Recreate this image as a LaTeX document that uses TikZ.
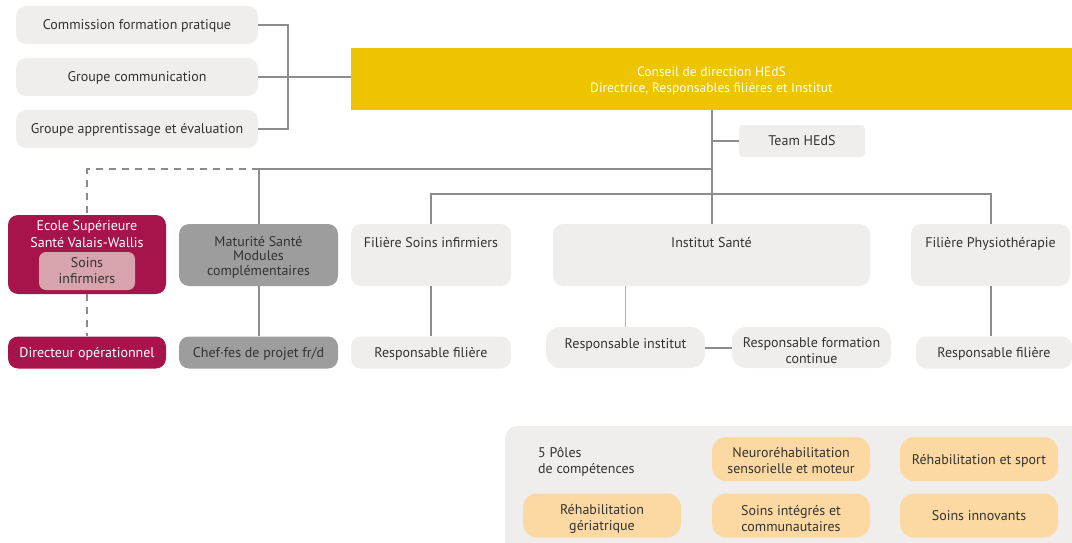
\documentclass[tikz,border=0pt]{standalone}
\usepackage{fontspec}
\setmainfont{PT Sans}
\begin{document}
\definecolor{boxgray}{HTML}{EFEEED}
\definecolor{crimson}{HTML}{A6144B}
\definecolor{pinkbox}{HTML}{D7A3AD}
\definecolor{midgray}{HTML}{9D9D9D}
\definecolor{gold}{HTML}{EEC300}
\definecolor{peach}{HTML}{FCD9A2}
\definecolor{linegray}{HTML}{8C8C8C}
\definecolor{txt}{HTML}{333333}
\begin{tikzpicture}[x=1pt,y=-1pt,
  every node/.style={font=\fontsize{14}{16}\selectfont, text=txt, inner sep=0pt, align=center},
  rbox/.style={rounded corners=10pt, fill=boxgray},
  crbox/.style={rounded corners=10pt, fill=crimson, text=white},
  gbox/.style={rounded corners=10pt, fill=midgray},
  pill/.style={rounded corners=14pt, fill=peach, minimum width=158pt, minimum height=44pt},
  conn/.style={draw=linegray, line width=2pt},
  thinconn/.style={draw=linegray!70, line width=1pt},
  dconn/.style={draw=linegray, line width=1.5pt, dash pattern=on 7pt off 6pt},
  sz/.style 2 args={minimum width=#1, minimum height=#2},
  sl/.style={text height=10pt, text depth=0.5pt},
  lbl/.style 2 args={label={[yshift=#1]center:{#2}}},
  wlbl/.style 2 args={label={[yshift=#1, text=white]center:{#2}}}
]
\useasboundingbox (0,0) rectangle (1072,543);

% left committees
\node[rbox, sz={242pt}{38pt}, sl] (cfp) at (137,25) {Commission formation pratique};
\node[rbox, sz={242pt}{38pt}, sl] (gc) at (137,77) {Groupe communication};
\node[rbox, sz={242pt}{38pt}, sl] (gae) at (137,129) {Groupe apprentissage et évaluation};

% direction
\node[fill=gold, sz={721pt}{62pt}, label={[yshift=-2.5pt, text=white, font=\fontsize{13.5}{16}\selectfont]center:{Conseil de direction HEdS\\Directrice, Responsables filières et Institut}}] (cd) at (711.5,79) {};
\node[rbox, rounded corners=4pt, sz={126pt}{32pt}, sl] (team) at (802,141) {Team HEdS};

% second row
\node[crbox, sz={158pt}{79pt}, label={[anchor=north, yshift=-5pt, text=white, font=\fontsize{14}{17}\selectfont]north:{Ecole Supérieure\\Santé Valais-Wallis}}] (ecole) at (87,254.5) {};
\node[rounded corners=7pt, fill=pinkbox, sz={96pt}{38pt}] (soins) at (87,271) {Soins\\infirmiers};
\node[gbox, sz={159pt}{62pt}, label={[yshift=-2pt, font=\fontsize{14}{14.5}\selectfont]center:{Maturité Santé\\Modules\\complémentaires}}] (mat) at (258.5,255) {};
\node[rbox, sz={160pt}{62pt}, label={[anchor=north, yshift=-13pt]north:Filière Soins infirmiers}] (fsi) at (431,255) {};
\node[rbox, sz={317pt}{62pt}, label={[anchor=north, yshift=-13pt]north:Institut Santé}] (inst) at (711.5,255) {};
\node[rbox, sz={159pt}{62pt}, label={[anchor=north, yshift=-13pt]north:Filière Physiothérapie}] (physio) at (990.5,255) {};

% third row
\node[crbox, sz={158pt}{32pt}, sl] (dir) at (87,352.5) {Directeur opérationnel};
\node[gbox, sz={159pt}{32pt}, sl] (chef) at (258.5,352.5) {Chef·fes de projet fr/d};
\node[rbox, sz={160pt}{32pt}, sl] (rf1) at (431,352.5) {Responsable filière};
\node[rbox, rounded corners=14pt, sz={159pt}{41pt}, lbl={2.5pt}{Responsable institut}] (ri) at (625.5,347.5) {};
\node[rbox, rounded corners=14pt, sz={159pt}{41pt}, lbl={-3.5pt}{Responsable formation\\continue}] (rfc) at (811.5,347.5) {};
\node[rbox, sz={156pt}{32pt}, sl] (rf2) at (994,352.5) {Responsable filière};

% poles panel
\fill[boxgray, rounded corners=12pt] (505,426) rectangle (1085,560);
\node[anchor=west, align=left] (poles) at (538,462) {5 Pôles\\de compétences};
\node[pill, lbl={-2pt}{Neuroréhabilitation\\sensorielle et moteur}] (p1) at (791,459) {};
\node[pill, sl, lbl={-1.5pt}{Réhabilitation et sport}] (p2) at (979,459) {};
\node[pill, lbl={-3pt}{Réhabilitation\\gériatrique}] (p3) at (602,515.5) {};
\node[pill, lbl={-3pt}{Soins intégrés et\\communautaires}] (p4) at (791,515.5) {};
\node[pill, sl] (p5) at (979,515.5) {Soins innovants};

% connectors
\coordinate (busL) at (288,77);
\draw[conn] (cfp.east) -| (busL) |- (gae.east);
\draw[conn] (gc.east) -- (gc.east -| cd.west);
\draw[conn] (cd.south) -- (inst.north);
\draw[conn] (cd.south |- team.west) -- (team.west);
\coordinate (b1) at (258.5,169);
\draw[conn] (b1 -| cd.south) -- (b1) -- (mat.north);
\draw[dconn] (b1) -| (ecole.north);
\draw[dconn] (ecole.south) -- (dir.north);
\draw[conn] (fsi.north) -- ++(0,-30) -| (physio.north);
\draw[conn] (mat.south) -- (chef.north);
\draw[conn] (fsi.south) -- (rf1.north);
\draw[conn] (physio.south) -- (physio.south |- rf2.north);
\draw[thinconn] (inst.south -| ri.north) -- (ri.north);
\draw[conn] (ri.east) -- (rfc.west);
\end{tikzpicture}
\end{document}
